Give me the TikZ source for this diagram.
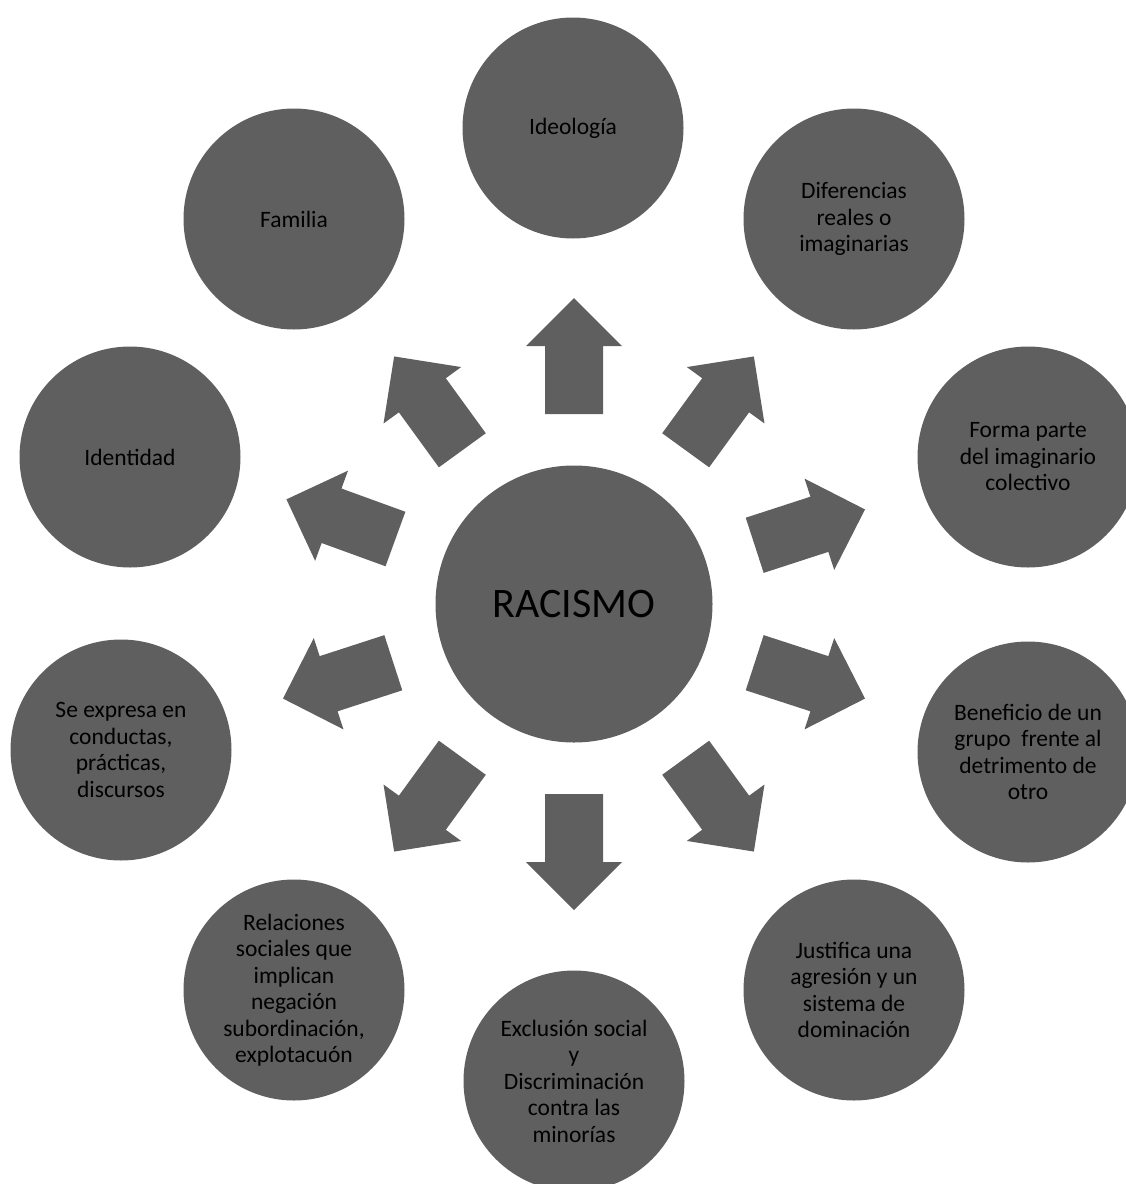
\documentclass[tikz,border=0pt]{standalone}
\usepackage{fontspec}
\setmainfont{Carlito}
\definecolor{shapegray}{HTML}{5F5F5F}
\begin{document}
\begin{tikzpicture}[x=1pt,y=-1pt,
  bubble/.style={circle, fill=shapegray, minimum size=221pt, inner sep=0pt, align=center,
    text=black, font=\fontsize{23.5}{26.5}\selectfont},
  hub/.style={bubble, minimum size=277pt, font=\fontsize{42}{48}\selectfont},
  blockarrow/.style={fill=shapegray}]
\useasboundingbox (0,0) rectangle (1126,1184);
% center
\node[hub] (rac) at (574,604) {RACISMO};
% outer circles
\node[bubble] (ideo) at (573,128) {Ideología};
\node[bubble] (fam) at (294,219) {Familia};
\node[bubble] (dif) at (854,219) {Diferencias\\reales o\\imaginarias};
\node[bubble] (iden) at (130,457) {Identidad};
\node[bubble] (forma) at (1028,457) {Forma parte\\del imaginario\\colectivo};
\node[bubble] (expr) at (121,750) {Se expresa en\\conductas,\\prácticas,\\discursos};
\node[bubble] (benef) at (1028,752) {Beneficio de un\\grupo\ \ frente al\\detrimento de\\otro};
\node[bubble] (rel) at (294,990) {Relaciones\\sociales que\\implican\\negación\\subordinación,\\explotacuón};
\node[bubble] (just) at (854,990) {Justifica una\\agresión y un\\sistema de\\dominación};
\node[bubble] (excl) at (574,1081) {Exclusión social\\y\\Discriminación\\contra las\\minorías};
% block arrows radiating from the center
\foreach \ang in {90,126,160,198,234,270,306,342,18,54}{
  \fill[blockarrow, shift={(rac.center)}, rotate=\ang]
    (190,-29) -- (258,-29) -- (258,-48) -- (306,0) -- (258,48) -- (258,29) -- (190,29) -- cycle;
}
\end{tikzpicture}
\end{document}
